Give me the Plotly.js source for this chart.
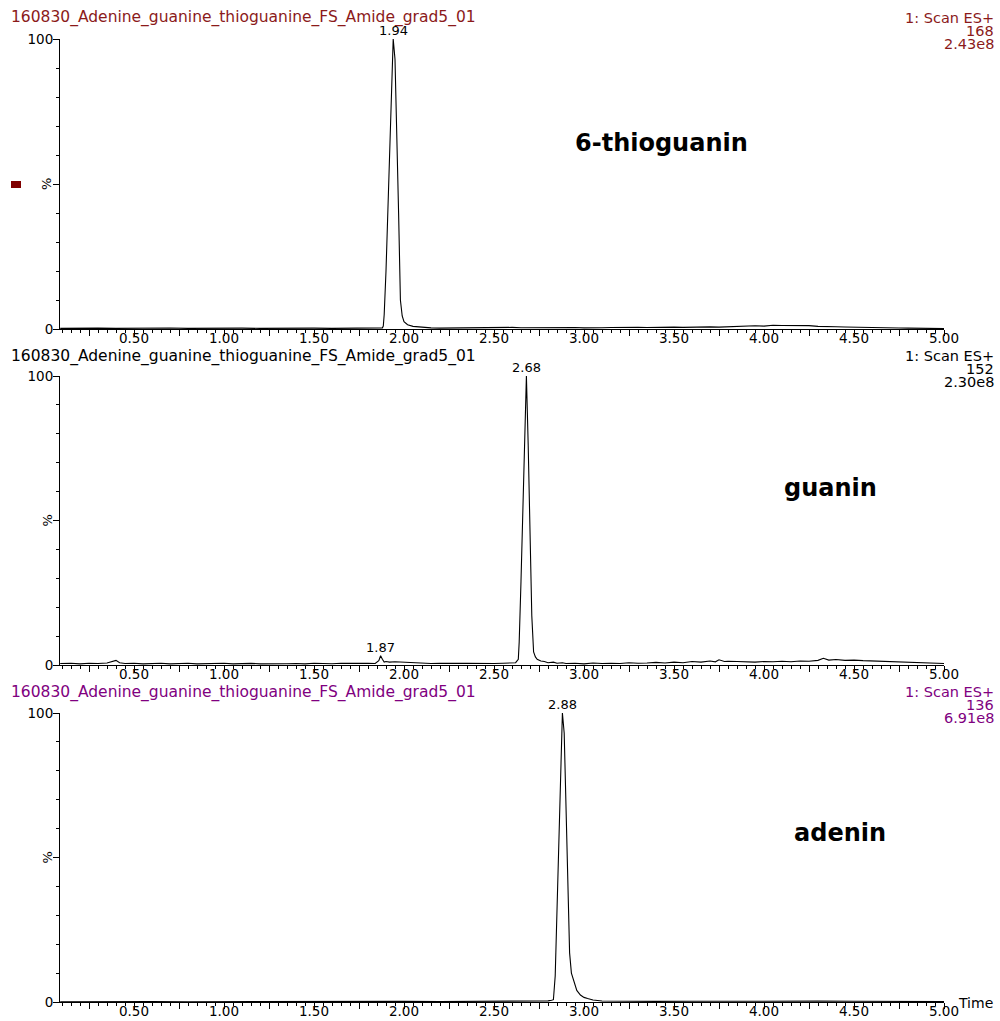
<!DOCTYPE html>
<html>
<head>
<meta charset="utf-8">
<script src="https://cdn.plot.ly/plotly-3.0.1.min.js"></script>
<style>
  html, body { margin: 0; padding: 0; background: #fff; }
  #chart { width: 1000px; height: 1021px; }
</style>
</head>
<body>
<div id="chart"></div>
<script>
// Run 160830: full-scan ES+ chromatograms, relative intensity (%) vs. retention time (min)
const runName = "160830_Adenine_guanine_thioguanine_FS_Amide_grad5_01";
const scanLabel = "1: Scan ES+";
const compounds = ["6-thioguanin", "guanin", "adenin"];
const masses = ["168", "152", "136"];
const totals = ["2.43e8", "2.30e8", "6.91e8"];
const headerColors = ["#8b1a1a", "#000000", "#800080"];

// m/z 168 — 6-thioguanin
const thioTime = [0.09,0.15,0.2,0.3,0.4,0.5,0.6,0.7,0.8,0.9,1.0,1.1,1.2,1.3,1.4,1.5,1.6,1.7,1.8,1.86,
  1.88,1.885,1.89,1.90,1.91,1.92,1.93,1.94,1.95,1.96,1.97,1.98,1.99,2.00,2.02,2.05,
  2.10,2.15,2.20,2.25,2.30,2.35,2.40,2.45,2.50,2.55,2.60,2.65,2.70,2.75,2.80,2.85,2.90,2.95,
  3.00,3.05,3.10,3.15,3.20,3.25,3.30,3.35,3.40,3.45,3.50,3.55,3.60,3.65,3.70,3.75,3.80,3.85,3.90,3.95,
  4.00,4.05,4.10,4.15,4.20,4.25,4.30,4.35,4.40,4.45,4.50,4.55,4.60,4.65,4.70,4.75,4.80,4.85,4.90,4.95,5.00];
const thioInt = [0.2,0.3,0.2,0.3,0.2,0.3,0.25,0.35,0.2,0.3,0.25,0.3,0.2,0.3,0.25,0.3,0.2,0.3,0.25,0.3,
  0.4,1,5,20,42,63,85,100,93,70,40,10,4.5,2.5,1.5,0.9,
  0.6,0.4,0.3,0.35,0.3,0.4,0.3,0.45,0.5,0.4,0.55,0.45,0.5,0.4,0.5,0.45,0.6,0.5,
  0.4,0.55,0.45,0.5,0.6,0.45,0.55,0.5,0.6,0.5,0.65,0.55,0.7,0.6,0.75,0.65,0.8,0.9,1.0,1.1,
  1.0,1.3,1.2,1.25,1.1,1.15,0.9,0.95,0.8,0.7,0.6,0.55,0.5,0.45,0.4,0.35,0.3,0.25,0.2,0.2,0.15];

// m/z 152 — guanin
const guanTime = [0.09,0.15,0.20,0.25,0.30,0.35,0.40,0.42,0.45,0.50,0.55,0.60,0.65,0.70,0.75,0.80,0.85,0.90,0.95,
  1.00,1.05,1.10,1.15,1.20,1.25,1.30,1.35,1.40,1.45,1.50,1.55,1.60,1.65,1.70,1.75,1.80,1.84,1.86,1.87,1.88,1.89,
  1.90,1.92,1.95,2.00,2.05,2.10,2.15,2.20,2.25,2.30,2.35,2.40,2.45,2.50,2.55,2.60,
  2.62,2.635,2.64,2.65,2.66,2.67,2.68,2.69,2.70,2.71,2.72,2.73,2.74,2.76,2.78,2.80,2.83,2.85,2.88,2.90,2.95,
  3.00,3.05,3.10,3.15,3.20,3.25,3.30,3.35,3.40,3.45,3.50,3.55,3.60,3.65,3.70,3.73,3.75,3.78,3.80,3.85,3.90,3.95,
  4.00,4.05,4.10,4.15,4.20,4.25,4.30,4.33,4.36,4.40,4.45,4.50,4.55,4.60,4.65,4.70,4.75,4.80,4.85,4.90,4.95,5.00];
const guanInt = [0.5,0.6,0.4,0.6,0.5,0.7,1.6,0.8,0.5,0.6,0.4,0.5,0.6,0.4,0.5,0.6,0.4,0.5,0.45,
  0.6,0.4,0.5,0.55,0.4,0.5,0.6,0.45,0.5,0.4,0.6,0.5,0.45,0.6,0.5,0.55,0.6,0.5,1.5,3.2,2.0,1.0,
  1.2,1.0,1.1,0.9,0.7,0.6,0.5,0.6,0.5,0.55,0.6,0.5,0.65,0.5,0.6,0.7,
  0.8,2,8,29,51,74,100,76,46,17,4.5,2.8,2.0,1.4,1.2,0.8,1.0,0.6,0.8,0.5,0.6,
  0.4,0.7,0.5,0.6,0.5,0.8,0.6,0.7,0.9,0.7,1.0,0.8,1.2,1.0,1.4,1.1,1.8,1.2,1.3,1.2,1.1,1.0,
  1.2,1.1,1.3,1.1,1.4,1.3,1.6,2.3,1.7,1.9,1.6,1.7,1.5,1.4,1.2,1.1,1.2,1.0,0.9,0.7,0.6,0.5];

// m/z 136 — adenin
const adenTime = [0.09,0.2,0.4,0.6,0.8,1.0,1.2,1.4,1.6,1.8,1.9,1.96,2.0,2.2,2.4,2.6,2.75,2.80,2.82,
  2.83,2.84,2.85,2.86,2.87,2.88,2.89,2.90,2.91,2.92,2.93,2.94,2.95,2.96,2.98,3.00,3.02,3.05,3.10,
  3.2,3.4,3.6,3.8,3.9,4.0,4.1,4.2,4.3,4.5,4.7,4.9,5.0];
const adenInt = [0.1,0.15,0.1,0.15,0.1,0.15,0.1,0.15,0.1,0.15,0.2,0.4,0.2,0.15,0.2,0.2,0.25,0.4,0.6,
  0.8,9,30,55,78,100,93,68,42,17,10,7.8,5.5,4,2.4,1.6,1.2,0.7,0.35,
  0.25,0.2,0.25,0.3,0.4,0.35,0.45,0.4,0.3,0.25,0.2,0.2,0.15];

// Labelled apexes per panel: retention time and relative height
const peakTimes = [[1.94], [1.87, 2.68], [2.88]];
const peakHeights = [[100], [3.2, 100], [100]];

const W = 1000, H = 1021;
const fx = p => p / W;
const fy = p => 1 - p / H;

const xDomain = [fx(60), fx(944)];
const xRange = [0.0889, 5.0];
const yDomains = [[fy(329), fy(39)], [fy(665), fy(376)], [fy(1002), fy(713)]];

const series = [[thioTime, thioInt], [guanTime, guanInt], [adenTime, adenInt]];
const axisFont = { family: "DejaVu Sans, Verdana, sans-serif", size: 13.5, color: "#000" };

const majorX = [];
const majorXText = [];
for (let k = 1; k <= 20; k++) {
  const v = k * 0.25;
  majorX.push(v);
  majorXText.push(k % 2 === 0 ? v.toFixed(2) : "");
}

const traces = series.map((s, i) => ({
  x: s[0], y: s[1],
  xaxis: i === 0 ? "x" : "x" + (i + 1),
  yaxis: i === 0 ? "y" : "y" + (i + 1),
  type: "scatter", mode: "lines",
  line: { color: "#000", width: 1.1 },
  hoverinfo: "skip"
}));

const layout = {
  width: W, height: H,
  margin: { l: 0, r: 0, t: 0, b: 0 },
  paper_bgcolor: "#fff", plot_bgcolor: "#fff",
  showlegend: false,
  annotations: [],
  shapes: [{
    type: "rect", xref: "paper", yref: "paper",
    x0: fx(11), x1: fx(21), y0: fy(188), y1: fy(181),
    fillcolor: "#800000", line: { width: 0 }
  }]
};

const headerY = [18, 356, 692];
const labelPos = [[661, 143], [830, 488], [840, 833]];

for (let i = 0; i < 3; i++) {
  const xs = i === 0 ? "" : String(i + 1);
  layout["xaxis" + xs] = {
    domain: xDomain, range: xRange, anchor: "y" + xs,
    showline: true, linecolor: "#000", linewidth: 1,
    ticks: "outside", ticklen: 6, tickwidth: 1, tickcolor: "#000",
    tickmode: "array", tickvals: majorX, ticktext: majorXText,
    ticklabelstandoff: -9,
    minor: { ticks: "outside", dtick: 0.05, tick0: 0, ticklen: 3, tickwidth: 1, tickcolor: "#000", showgrid: false },
    tickfont: axisFont, showgrid: false, zeroline: false, fixedrange: true
  };
  layout["yaxis" + xs] = {
    domain: yDomains[i], range: [0, 100], anchor: "x" + xs,
    showline: true, linecolor: "#000", linewidth: 1,
    ticks: "outside", ticklen: 6, tickwidth: 1, tickcolor: "#000",
    tickmode: "array", tickvals: [0, 50, 100], ticktext: ["0", "", "100"],
    ticklabelstandoff: -3,
    minor: { ticks: "outside", dtick: 10, tick0: 0, ticklen: 3, tickwidth: 1, tickcolor: "#000", showgrid: false },
    tickfont: axisFont, showgrid: false, zeroline: false, fixedrange: true
  };

  const hdrFont = { family: "DejaVu Sans, Verdana, sans-serif", size: 15.5, color: headerColors[i] };
  const sideFont = { family: "DejaVu Sans, Verdana, sans-serif", size: 14.5, color: headerColors[i] };
  const y0 = headerY[i];
  layout.annotations.push(
    { xref: "paper", yref: "paper", x: fx(9), y: fy(y0), xanchor: "left", yanchor: "middle",
      text: runName, showarrow: false, font: hdrFont },
    { xref: "paper", yref: "paper", x: fx(996), y: fy(y0), xanchor: "right", yanchor: "middle",
      text: scanLabel, showarrow: false, font: sideFont },
    { xref: "paper", yref: "paper", x: fx(996), y: fy(y0 + 13), xanchor: "right", yanchor: "middle",
      text: masses[i], showarrow: false, font: sideFont },
    { xref: "paper", yref: "paper", x: fx(996), y: fy(y0 + 26), xanchor: "right", yanchor: "middle",
      text: totals[i], showarrow: false, font: sideFont },
    { xref: "paper", yref: "paper", x: fx(47), y: (yDomains[i][0] + yDomains[i][1]) / 2,
      xanchor: "center", yanchor: "middle", textangle: -90,
      text: "%", showarrow: false, font: { family: "DejaVu Sans, sans-serif", size: 13, color: "#000" } },
    { xref: "paper", yref: "paper", x: fx(labelPos[i][0]), y: fy(labelPos[i][1]),
      xanchor: "center", yanchor: "middle",
      text: "<b>" + compounds[i] + "</b>", showarrow: false,
      font: { family: "DejaVu Sans, sans-serif", size: 24, color: "#000" } }
  );

  peakTimes[i].forEach((t, j) => {
    layout.annotations.push({
      xref: "x" + xs, yref: "y" + xs, x: t, y: peakHeights[i][j],
      xanchor: "center", yanchor: "bottom", yshift: -1,
      text: t.toFixed(2), showarrow: false,
      font: { family: "DejaVu Sans, sans-serif", size: 13, color: "#000" }
    });
  });
}

layout.annotations.push({
  xref: "paper", yref: "paper", x: fx(975), y: fy(1003), xanchor: "center", yanchor: "middle",
  text: "Time", showarrow: false,
  font: { family: "DejaVu Sans, Verdana, sans-serif", size: 14, color: "#000" }
});

Plotly.newPlot("chart", traces, layout, { displayModeBar: false, staticPlot: true });
</script>
</body>
</html>
